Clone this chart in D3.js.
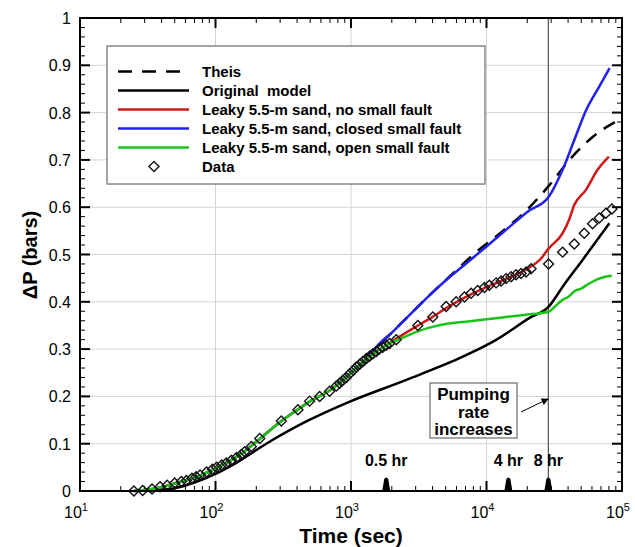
<!DOCTYPE html>
<html>
<head>
<meta charset="utf-8">
<script src="https://cdn.jsdelivr.net/npm/d3@7"></script>
<style>
  body { margin: 0; background: #fff; }
  svg text { font-family: "Liberation Sans", Arial, sans-serif; }
</style>
</head>
<body>
<div id="chart"></div>
<script>
// time in sec, dP in bars
const earlyCurve = [[25,0],[30,0.002],[40,0.008],[50,0.016],[70,0.028],[100,0.048],[150,0.076],[200,0.104],[300,0.146],[400,0.171],[500,0.19],[700,0.213],[1000,0.25],[1300,0.279]];
const theis = [[1300,0.283],[2000,0.335],[3000,0.385],[4000,0.42],[5600,0.459],[8000,0.5],[13000,0.548],[20000,0.595],[28800,0.645],[43000,0.707],[61000,0.749],[90000,0.781]];
const originalModel = [[32,0],[50,0.006],[70,0.018],[100,0.036],[134,0.055],[237,0.1],[468,0.147],[980,0.189],[2560,0.235],[6680,0.284],[11700,0.319],[20800,0.366],[28800,0.39],[36500,0.432],[51000,0.488],[80700,0.566]];
const noFault = [[1600,0.298],[2000,0.316],[3000,0.347],[4000,0.368],[5000,0.386],[7000,0.41],[10000,0.431],[15000,0.452],[20000,0.47],[25000,0.49],[28800,0.513],[36500,0.545],[40600,0.573],[44500,0.605],[54000,0.636],[66000,0.679],[80000,0.707]];
const closedFault = [[1600,0.31],[2000,0.335],[3000,0.385],[4000,0.42],[5000,0.445],[7000,0.48],[10000,0.517],[15000,0.56],[20000,0.59],[28800,0.622],[36450,0.679],[44460,0.742],[54300,0.805],[67900,0.855],[81000,0.894]];
const openFault = [[1600,0.298],[2000,0.314],[2500,0.326],[3000,0.336],[4000,0.347],[5000,0.353],[7000,0.358],[10000,0.363],[15000,0.369],[20000,0.373],[25000,0.376],[28800,0.379],[32000,0.39],[36000,0.403],[40000,0.41],[45000,0.423],[50000,0.428],[56000,0.437],[65000,0.447],[75000,0.453],[84000,0.455]];

const dataTime = [25,29,34,39,44,50,56,61,67,72,77,86,95,102,111,120,131,143,155,164,184,212,306,406,495,587,695,780,824,871,923,977,1040,1094,1160,1225,1300,1372,1450,1536,1620,1719,1820,1925,2157,3113,4017,5039,5970,6874,7704,8620,9655,10500,11770,12820,13950,15190,16530,17990,19590,21320,28720,36450,44460,52640,60640,67930,76080,84300];
const dataDP = [0,0.001,0.004,0.009,0.012,0.017,0.02,0.022,0.027,0.03,0.034,0.04,0.046,0.05,0.055,0.059,0.065,0.071,0.077,0.083,0.094,0.111,0.148,0.172,0.19,0.2,0.211,0.222,0.228,0.234,0.24,0.248,0.255,0.262,0.268,0.274,0.28,0.285,0.29,0.295,0.3,0.304,0.308,0.312,0.32,0.35,0.368,0.39,0.4,0.41,0.418,0.424,0.43,0.435,0.44,0.444,0.449,0.453,0.457,0.46,0.463,0.47,0.48,0.505,0.522,0.545,0.565,0.577,0.587,0.596];

const yTicks = [0,0.1,0.2,0.3,0.4,0.5,0.6,0.7,0.8,0.9,1];
const xDecades = [1,2,3,4,5];
const events = [{label:"0.5 hr", t:1820}, {label:"4 hr", t:14500}, {label:"8 hr", t:28600}];
const legendItems = ["Theis","Original  model","Leaky 5.5-m sand, no small fault","Leaky 5.5-m sand, closed small fault","Leaky 5.5-m sand, open small fault","Data"];
const noteLines = ["Pumping","rate","increases"];

const width = 635, height = 547;
const plot = {left: 80, right: 622, top: 18, bottom: 491};

const svg = d3.select("#chart").append("svg")
  .attr("width", width)
  .attr("height", height);

const x = d3.scaleLog().domain([10, 1e5]).range([plot.left, plot.right]);
const y = d3.scaleLinear().domain([0, 1]).range([plot.bottom, plot.top]);

// grid
const grid = svg.append("g").attr("stroke", "#d4d4d4").attr("stroke-width", 1);
[100, 1000, 10000].forEach(t => {
  grid.append("line").attr("x1", x(t)).attr("x2", x(t)).attr("y1", plot.top).attr("y2", plot.bottom);
});
yTicks.slice(1, -1).forEach(v => {
  grid.append("line").attr("x1", plot.left).attr("x2", plot.right).attr("y1", y(v)).attr("y2", y(v));
});

// 8 hr line
svg.append("line")
  .attr("x1", x(28600)).attr("x2", x(28600))
  .attr("y1", plot.top).attr("y2", plot.bottom)
  .attr("stroke", "#555").attr("stroke-width", 1.2);

// ticks (inward, on all four sides)
const ticks = svg.append("g").attr("stroke", "#000");
const xMinor = [];
for (let d = 1; d < 5; d++) for (let m = 2; m <= 9; m++) xMinor.push(m * Math.pow(10, d));
xDecades.forEach(d => {
  const px = x(Math.pow(10, d));
  ticks.append("line").attr("x1", px).attr("x2", px).attr("y1", plot.bottom).attr("y2", plot.bottom - 10).attr("stroke-width", 2);
  ticks.append("line").attr("x1", px).attr("x2", px).attr("y1", plot.top).attr("y2", plot.top + 10).attr("stroke-width", 2);
});
xMinor.forEach(t => {
  const px = x(t);
  ticks.append("line").attr("x1", px).attr("x2", px).attr("y1", plot.bottom).attr("y2", plot.bottom - 5).attr("stroke-width", 1);
  ticks.append("line").attr("x1", px).attr("x2", px).attr("y1", plot.top).attr("y2", plot.top + 5).attr("stroke-width", 1);
});
d3.range(0, 51).forEach(i => {
  const v = i / 50;
  const len = i % 5 === 0 ? 10 : 5;
  const sw = i % 5 === 0 ? 2 : 1;
  ticks.append("line").attr("x1", plot.left).attr("x2", plot.left + len).attr("y1", y(v)).attr("y2", y(v)).attr("stroke-width", sw);
  ticks.append("line").attr("x1", plot.right).attr("x2", plot.right - len).attr("y1", y(v)).attr("y2", y(v)).attr("stroke-width", sw);
});

// event markers
events.forEach(e => {
  const px = x(e.t);
  svg.append("path")
    .attr("d", `M${px - 4},${plot.bottom} L${px - 2},${plot.bottom - 12} Q${px},${plot.bottom - 15} ${px + 2},${plot.bottom - 12} L${px + 4},${plot.bottom} Z`)
    .attr("fill", "#000");
  svg.append("text")
    .attr("x", px).attr("y", 466)
    .attr("text-anchor", "middle")
    .attr("font-size", 16).attr("font-weight", "bold")
    .text(e.label);
});

// curves
const line = d3.line()
  .x(d => x(d[0]))
  .y(d => y(d[1]))
  .curve(d3.curveMonotoneX);

const series = [
  {data: theis, color: "#000", dash: "13,9"},
  {data: originalModel, color: "#000"},
  {data: earlyCurve.concat(closedFault), color: "#2222ee"},
  {data: earlyCurve.concat(noFault), color: "#d01818"},
  {data: earlyCurve.concat(openFault), color: "#18c418"}
];
series.forEach(s => {
  svg.append("path")
    .datum(s.data)
    .attr("d", line)
    .attr("fill", "none")
    .attr("stroke", s.color)
    .attr("stroke-width", 2.5)
    .attr("stroke-dasharray", s.dash || null);
});

// data points
const diamond = r => `M0,${-r} L${r},0 L0,${r} L${-r},0 Z`;
svg.append("g").selectAll("path")
  .data(dataTime.map((t, i) => [t, dataDP[i]]))
  .join("path")
  .attr("transform", d => `translate(${x(d[0])},${y(d[1])})`)
  .attr("d", diamond(5))
  .attr("fill", "none")
  .attr("stroke", "#111")
  .attr("stroke-width", 1.4);

// frame
svg.append("rect")
  .attr("x", plot.left).attr("y", plot.top)
  .attr("width", plot.right - plot.left).attr("height", plot.bottom - plot.top)
  .attr("fill", "none").attr("stroke", "#000").attr("stroke-width", 2);

// tick labels
svg.append("g").selectAll("text")
  .data(yTicks)
  .join("text")
  .attr("x", 71)
  .attr("y", d => y(d) + 6)
  .attr("text-anchor", "end")
  .attr("font-size", 16)
  .text(d => d3.format("")(d));

const xl = svg.append("g").selectAll("text")
  .data(xDecades)
  .join("text")
  .attr("x", d => x(Math.pow(10, d)) - 4)
  .attr("y", 518)
  .attr("text-anchor", "middle")
  .attr("font-size", 16);
xl.append("tspan").text("10");
xl.append("tspan").attr("dy", -7).attr("font-size", 11).text(d => d);

// axis titles
svg.append("text")
  .attr("x", 351).attr("y", 543)
  .attr("text-anchor", "middle")
  .attr("font-size", 21).attr("font-weight", "bold")
  .text("Time (sec)");

svg.append("text")
  .attr("transform", "translate(37,255) rotate(-90)")
  .attr("text-anchor", "middle")
  .attr("font-size", 20).attr("font-weight", "bold")
  .text("\u0394P (bars)");

// legend
const legend = svg.append("g");
legend.append("rect")
  .attr("x", 107).attr("y", 46).attr("width", 378).attr("height", 138)
  .attr("fill", "#fff").attr("stroke", "#888").attr("stroke-width", 1.5);
const legendStyles = [
  {color: "#000", dash: "14,10"},
  {color: "#000"},
  {color: "#d01818"},
  {color: "#2222ee"},
  {color: "#18c418"},
  {marker: true}
];
legendItems.forEach((label, i) => {
  const ly = 71.5 + i * 19;
  const st = legendStyles[i];
  if (st.marker) {
    legend.append("path")
      .attr("transform", `translate(154,${ly})`)
      .attr("d", diamond(5))
      .attr("fill", "#fff").attr("stroke", "#111").attr("stroke-width", 1.4);
  } else {
    legend.append("line")
      .attr("x1", 118).attr("x2", 189).attr("y1", ly).attr("y2", ly)
      .attr("stroke", st.color).attr("stroke-width", 2.5)
      .attr("stroke-dasharray", st.dash || null);
  }
  legend.append("text")
    .attr("x", 202).attr("y", ly + 5.5)
    .attr("font-size", 15).attr("font-weight", "bold")
    .style("white-space", "pre")
    .text(label);
});

// annotation
const note = svg.append("g");
note.append("rect")
  .attr("x", 430).attr("y", 383).attr("width", 87).attr("height", 55)
  .attr("fill", "#fff").attr("stroke", "#888").attr("stroke-width", 1.5);
noteLines.forEach((s, i) => {
  note.append("text")
    .attr("x", 473.5).attr("y", 400 + i * 17.5)
    .attr("text-anchor", "middle")
    .attr("font-size", 17).attr("font-weight", "bold")
    .text(s);
});
svg.append("defs").append("marker")
  .attr("id", "head")
  .attr("viewBox", "0 0 10 10")
  .attr("refX", 9).attr("refY", 5)
  .attr("markerWidth", 9).attr("markerHeight", 7)
  .attr("markerUnits", "userSpaceOnUse")
  .attr("orient", "auto")
  .append("path").attr("d", "M0,0 L10,5 L0,10 Z").attr("fill", "#000");
svg.append("line")
  .attr("x1", 521).attr("y1", 412).attr("x2", 548).attr("y2", 399)
  .attr("stroke", "#000").attr("stroke-width", 1)
  .attr("marker-end", "url(#head)");
</script>
</body>
</html>
